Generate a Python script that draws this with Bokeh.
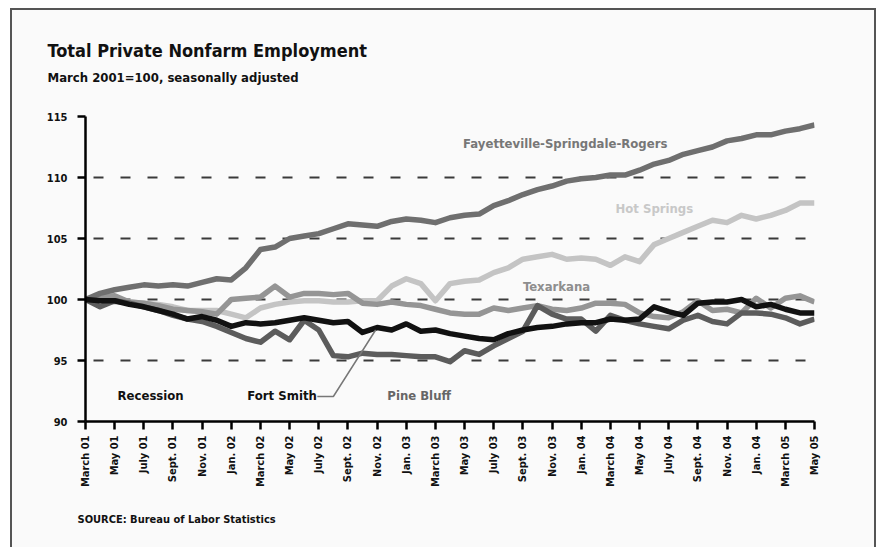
import math
from bokeh.plotting import figure
from bokeh.models import FixedTicker, Label, Range1d, Title
from bokeh.embed import file_html
from bokeh.resources import INLINE

# ---------------- data ----------------
months = list(range(51))  # March 2001 .. May 2005
tick_positions = list(range(0, 51, 2))
tick_labels = ["March 01", "May 01", "July 01", "Sept. 01", "Nov. 01",
               "Jan. 02", "March 02", "May 02", "July 02", "Sept. 02", "Nov. 02",
               "Jan. 03", "March 03", "May 03", "July 03", "Sept. 03", "Nov. 03",
               "Jan. 04", "March 04", "May 04", "July 04", "Sept. 04", "Nov. 04",
               "Jan. 04", "March 05", "May 05"]
y_ticks = [90, 95, 100, 105, 110, 115]
grid_values = [95, 100, 105, 110, 115]

fayetteville = [100.0, 100.5, 100.8, 101.0, 101.2, 101.1, 101.2, 101.1, 101.4, 101.7,
                101.6, 102.6, 104.1, 104.3, 105.0, 105.2, 105.4, 105.8, 106.2, 106.1,
                106.0, 106.4, 106.6, 106.5, 106.3, 106.7, 106.9, 107.0, 107.7, 108.1,
                108.6, 109.0, 109.3, 109.7, 109.9, 110.0, 110.2, 110.2, 110.6, 111.1,
                111.4, 111.9, 112.2, 112.5, 113.0, 113.2, 113.5, 113.5, 113.8, 114.0,
                114.3]
hot_springs = [100.0, 99.9, 99.8, 99.8, 99.7, 99.6, 99.4, 99.1, 99.1, 99.1,
               98.8, 98.5, 99.3, 99.6, 99.8, 99.9, 99.9, 99.8, 99.8, 99.9,
               99.9, 101.1, 101.7, 101.3, 99.9, 101.3, 101.5, 101.6, 102.2, 102.6,
               103.3, 103.5, 103.7, 103.3, 103.4, 103.3, 102.8, 103.5, 103.1, 104.5,
               105.0, 105.5, 106.0, 106.5, 106.3, 106.9, 106.6, 106.9, 107.3, 107.9,
               107.9]
texarkana = [100.0, 100.2, 100.3, 99.8, 99.7, 99.5, 99.2, 99.1, 99.0, 98.8,
             100.0, 100.1, 100.2, 101.1, 100.2, 100.5, 100.5, 100.4, 100.5, 99.7,
             99.6, 99.8, 99.6, 99.5, 99.2, 98.9, 98.8, 98.8, 99.3, 99.1,
             99.3, 99.5, 99.2, 99.1, 99.3, 99.7, 99.7, 99.6, 98.9, 98.6,
             98.5, 99.0, 99.9, 99.1, 99.2, 98.9, 100.1, 99.3, 100.1, 100.3,
             99.8]
pine_bluff = [100.0, 99.4, 99.9, 99.7, 99.4, 99.1, 98.7, 98.4, 98.2, 97.8,
              97.3, 96.8, 96.5, 97.4, 96.7, 98.3, 97.5, 95.4, 95.3, 95.6,
              95.5, 95.5, 95.4, 95.3, 95.3, 94.9, 95.8, 95.5, 96.2, 96.8,
              97.4, 99.5, 98.8, 98.4, 98.4, 97.4, 98.7, 98.3, 98.0, 97.8,
              97.6, 98.3, 98.7, 98.2, 98.0, 98.9, 98.9, 98.8, 98.5, 98.0,
              98.4]
fort_smith = [100.0, 99.9, 99.9, 99.6, 99.4, 99.1, 98.8, 98.4, 98.6, 98.3,
              97.8, 98.1, 98.0, 98.1, 98.3, 98.5, 98.3, 98.1, 98.2, 97.3,
              97.7, 97.5, 98.0, 97.4, 97.5, 97.2, 97.0, 96.8, 96.7, 97.2,
              97.5, 97.7, 97.8, 98.0, 98.1, 98.1, 98.4, 98.3, 98.4, 99.4,
              99.0, 98.7, 99.7, 99.8, 99.8, 100.0, 99.4, 99.6, 99.2, 98.9,
              98.9]

# ---------------- annotation positions (not data) ----------------
callout_x = [15.9, 17.0, 19.9]
callout_y = [92.05, 92.05, 97.5]

FONT = "'Liberation Sans Narrow', 'DejaVu Sans Condensed', sans-serif"
BG = "#fafafa"
BORDER = "2px solid #555555"

p = figure(width=866, height=539, output_backend="svg", toolbar_location=None,
           x_range=Range1d(0, 50), y_range=Range1d(90, 115),
           min_border_left=73, min_border_right=64, min_border_top=106, min_border_bottom=128,
           margin=(8, 0, 0, 10))
p.styles = {"border-left": BORDER, "border-top": BORDER, "border-right": BORDER,
            "background-color": BG}
p.background_fill_color = BG
p.border_fill_color = BG
p.outline_line_color = None

# grid
p.xgrid.visible = False
p.ygrid.ticker = FixedTicker(ticks=grid_values)
p.ygrid.grid_line_color = "#3a3a3a"
p.ygrid.grid_line_width = 2
p.ygrid.grid_line_dash = "10 17"
p.ygrid.grid_line_dash_offset = 19

# axes
for ax in (p.xaxis[0], p.yaxis[0]):
    ax.axis_line_color = "black"
    ax.axis_line_width = 2.5
    ax.major_tick_line_color = "black"
    ax.major_tick_line_width = 2.5
    ax.major_tick_in = 0
    ax.major_tick_out = 8
    ax.minor_tick_line_color = None
    ax.major_label_text_font = FONT
    ax.major_label_text_font_style = "bold"
    ax.major_label_text_color = "#111111"

p.yaxis.ticker = FixedTicker(ticks=y_ticks)
p.yaxis.major_label_text_font_size = "11px"
p.yaxis.major_label_standoff = 10

p.xaxis.ticker = FixedTicker(ticks=tick_positions)
p.xaxis.major_label_overrides = {t: lab for t, lab in zip(tick_positions, tick_labels)}
p.xaxis.major_label_orientation = math.pi / 2
p.xaxis.major_label_text_font_size = "11px"
p.xaxis.major_label_standoff = 6

# series
lw = 5.5
p.line(months, hot_springs, line_color="#c4c4c4", line_width=lw, line_join="round")
p.line(months, texarkana, line_color="#959595", line_width=lw, line_join="round")
p.line(months, fayetteville, line_color="#6f6f6f", line_width=lw, line_join="round")
p.line(months, pine_bluff, line_color="#5c5c5c", line_width=lw, line_join="round")
p.line(months, fort_smith, line_color="#111111", line_width=lw, line_join="round")
p.line(callout_x, callout_y, line_color="#777777", line_width=1.5)

def lab(x, y, text, color, size="13px"):
    p.add_layout(Label(x=x, y=y, text=text, text_color=color, text_font=FONT,
                       text_font_style="bold", text_font_size=size,
                       text_baseline="middle", text_align="left"))

lab(25.9, 112.8, "Fayetteville-Springdale-Rogers", "#777777")
lab(36.35, 107.5, "Hot Springs", "#c8c8c8")
lab(30.0, 101.1, "Texarkana", "#8e8e8e")
lab(20.7, 92.1, "Pine Bluff", "#666666")
lab(11.1, 92.1, "Fort Smith", "#111111")
lab(2.2, 92.1, "Recession", "#111111")

# titles (stacked outward from the frame)
p.add_layout(Title(text=" ", text_font_size="1px", standoff=28), "above")
p.add_layout(Title(text="March 2001=100, seasonally adjusted", align="left", offset=-38,
                   text_font=FONT, text_font_style="bold", text_font_size="13px",
                   text_color="#111111", standoff=2), "above")
p.add_layout(Title(text="Total Private Nonfarm Employment", align="left", offset=-38,
                   text_font=FONT, text_font_style="bold", text_font_size="18px",
                   text_color="#111111", standoff=12), "above")
p.add_layout(Title(text="SOURCE: Bureau of Labor Statistics", align="left", offset=-8,
                   text_font=FONT, text_font_style="bold", text_font_size="11px",
                   text_color="#111111", standoff=40), "below")

open("out.html", "w").write(file_html(p, INLINE))
